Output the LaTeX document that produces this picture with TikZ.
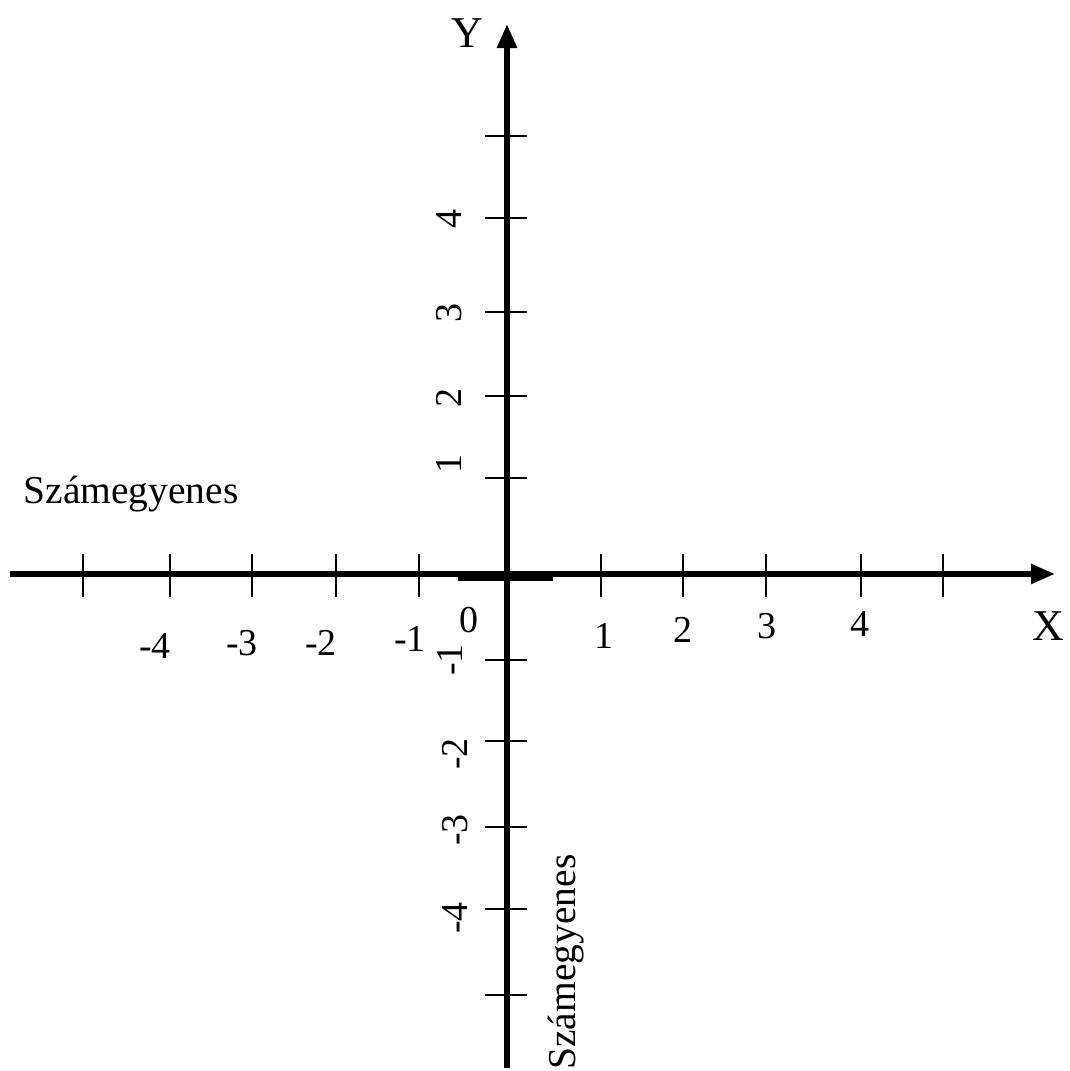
\documentclass[tikz,border=0pt]{standalone}
\usepackage{fontspec}
\setmainfont{Liberation Serif}
\usetikzlibrary{arrows.meta}
\begin{document}
\begin{tikzpicture}[x=1pt,y=-1pt,
  axis/.style={line width=5.5pt,-{Triangle[length=24pt,width=19pt]}},
  tickmark/.style={line width=2.6pt},
  lbl/.style={inner sep=0pt,font=\fontsize{38}{44}\selectfont},
  big/.style={inner sep=0pt,font=\fontsize{44}{50}\selectfont},
  vlbl/.style={lbl,rotate=90}]
\useasboundingbox[fill=white] (0,0) rectangle (1069,1071);
\coordinate (xs) at (10,574);
\coordinate (xe) at (1055,574);
\coordinate (ys) at (507,1068);
\coordinate (ye) at (507,24);
\coordinate (o) at (507,574);
% thick bar at origin
\draw[line width=9pt] (458,576) -- (553,576);
\draw[axis] (xs) -- (xe);
\draw[axis] (ys) -- (ye);
% x ticks
\foreach \x in {83,170,252,336,419,601,683,766,861,943}
  \draw[tickmark] (\x,554) -- (\x,597);
% y ticks
\foreach \y in {136,218,312,396,478,660,741,827,909,995}
  \draw[tickmark] (485,\y) -- (527,\y);
% x labels
\node[lbl] (xm4) at (155,646) {-4};
\node[lbl] (xm3) at (242,643) {-3};
\node[lbl] (xm2) at (321,643) {-2};
\node[lbl] (xm1) at (410,639) {-1};
\node[lbl] (x0) at (469,620) {0};
\node[lbl] (x1) at (604,636) {1};
\node[lbl] (x2) at (683,630) {2};
\node[lbl] (x3) at (767,626) {3};
\node[lbl] (x4) at (860,624) {4};
\node[big] (X) at (1048,626) {X};
\node[big] (Y) at (467,33) {Y};
% y labels
\node[vlbl] (y4) at (449,219) {4};
\node[vlbl] (y3) at (449,313) {3};
\node[vlbl] (y2) at (449,398) {2};
\node[vlbl] (y1) at (449,464) {1};
\node[vlbl] (ym1) at (450,660) {-1};
\node[vlbl] (ym2) at (455,754) {-2};
\node[vlbl] (ym3) at (455,830) {-3};
\node[vlbl] (ym4) at (455,918) {-4};
\node[lbl,font=\fontsize{39.5}{45}\selectfont] (h) at (131,494) {Számegyenes};
\node[lbl,rotate=90,font=\fontsize{39.5}{45}\selectfont] (v) at (566,962) {Számegyenes};
\end{tikzpicture}
\end{document}
